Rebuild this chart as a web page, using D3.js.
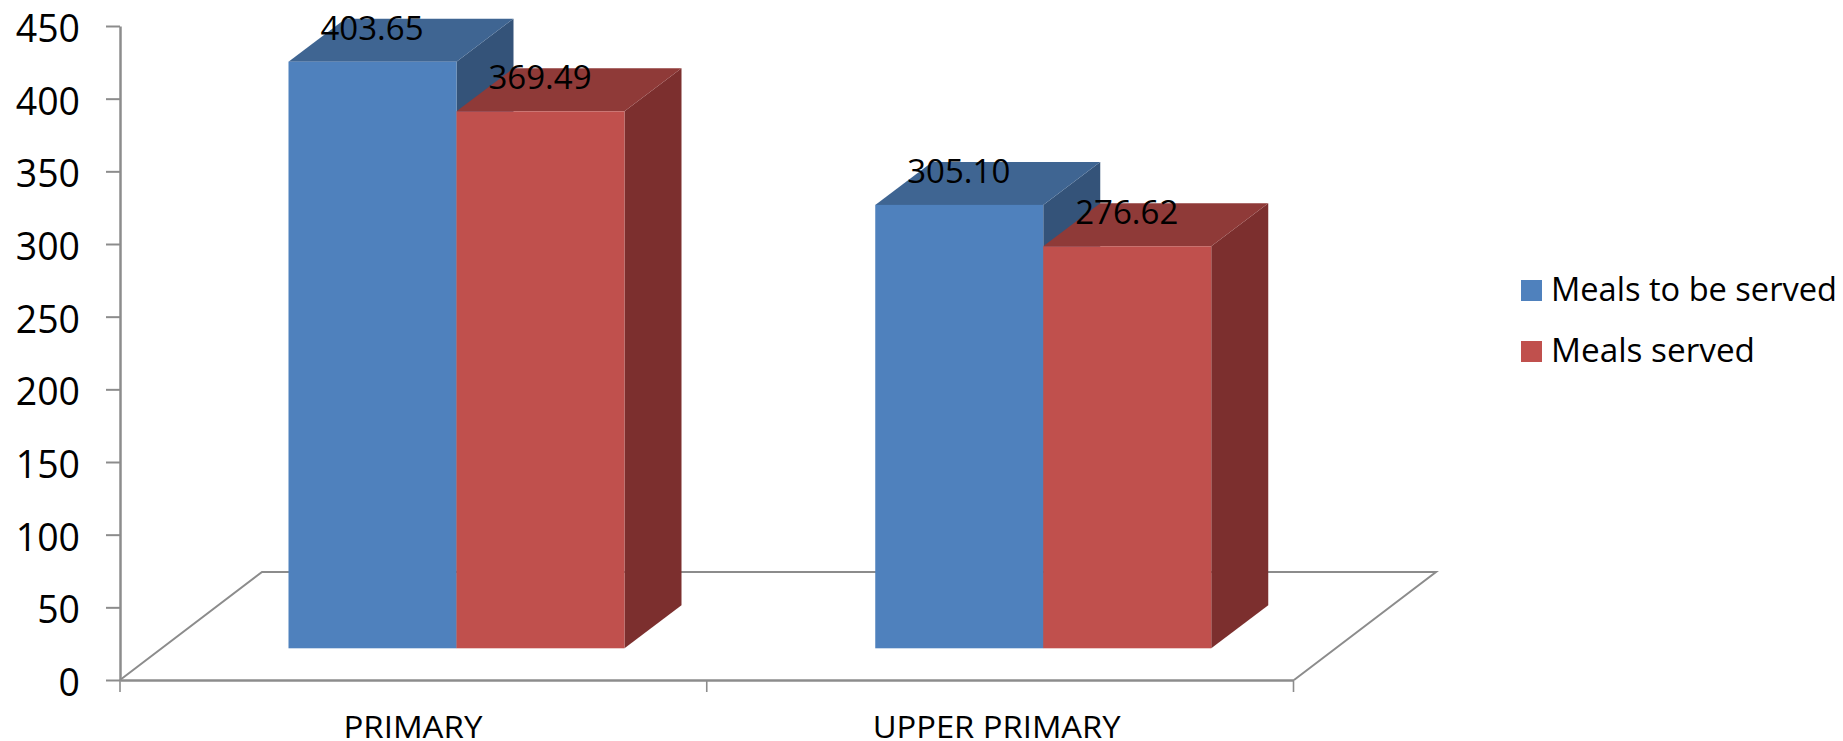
<!DOCTYPE html>
<html><head><meta charset="utf-8">
<script src="https://cdnjs.cloudflare.com/ajax/libs/d3/7.8.5/d3.min.js"></script>
<style>
html,body{margin:0;padding:0;background:#fff;overflow:hidden}
svg{display:block}
text{font-family:"Open Sans",sans-serif;fill:#000}
</style></head><body>
<svg id="c" width="1843" height="741"></svg>
<script>
const categories = ["PRIMARY", "UPPER PRIMARY"];
const seriesNames = ["Meals to be served", "Meals served"];
const mealsToBeServed = [403.65, 305.10];
const mealsServed = [369.49, 276.62];
const labels = [["403.65", "305.10"], ["369.49", "276.62"]];
const yTicks = [0, 50, 100, 150, 200, 250, 300, 350, 400, 450];
const seriesValues = [mealsToBeServed, mealsServed];
const palette = [
  {front: "#4f81bd", top: "#3f6592", side: "#345379"},
  {front: "#c0504d", top: "#8f3a38", side: "#7c2f2e"}
];
const axisColor = "#8c8c8c";

const svg = d3.select("#c");
const y = d3.scaleLinear().domain([0, 450]).range([680, 26]);
const x0 = d3.scaleBand().domain(categories).range([120, 1293.5]);
const x1 = d3.scaleBand().domain([0, 1]).range([125, 461]);

// floor perspective and bar depth
const floorDx = 142, floorDy = 108, frontDx = 43.5, frontDy = 31.7, barDx = 57, barDy = 43;
svg.append("path")
  .attr("d", d3.line()([[120, 680], [120 + floorDx, 680 - floorDy], [1294 + floorDx, 680 - floorDy], [1294, 680]]))
  .attr("fill", "none").attr("stroke", axisColor).attr("stroke-width", 2);

// y axis
const yAxis = svg.append("g").attr("transform", "translate(120,0)")
  .call(d3.axisLeft(y).tickValues(yTicks).tickSize(14).tickPadding(26).tickSizeOuter(0));
yAxis.select(".domain").attr("stroke", axisColor).attr("stroke-width", 2.5);
yAxis.selectAll(".tick line").attr("stroke", axisColor).attr("stroke-width", 2);
yAxis.selectAll(".tick text").attr("dy", null).attr("y", 15.5).attr("font-size", 39).attr("fill", "#000")
  .style("font-family", '"Open Sans",sans-serif').attr("lengthAdjust", "spacingAndGlyphs")
  .each(function (d) { d3.select(this).attr("textLength", String(d).length * 21.4); });

// x axis
const xAxis = svg.append("g").attr("transform", "translate(0,680)")
  .call(d3.axisBottom(x0).tickValues([]).tickSizeOuter(0));
xAxis.select(".domain").attr("stroke", axisColor).attr("stroke-width", 2.5);
const edgeTicks = [x0.range()[0], x0.range()[0] + x0.bandwidth(), x0.range()[1]];
xAxis.selectAll("line.t").data(edgeTicks).join("line").attr("class", "t")
  .attr("x1", d => d).attr("x2", d => d).attr("y1", 0).attr("y2", 12)
  .attr("stroke", axisColor).attr("stroke-width", 1.6);
const catWidths = [139, 248];
const catNudge = [-0.5, -3.5];
svg.append("g").selectAll("text").data(categories).join("text")
  .attr("x", (d, i) => x0(d) + x0.bandwidth() / 2 + catNudge[i])
  .attr("y", 738).attr("text-anchor", "middle").attr("font-size", 30.5)
  .attr("textLength", (d, i) => catWidths[i]).attr("lengthAdjust", "spacingAndGlyphs")
  .text(d => d);

// bars
const bars = [];
seriesValues.forEach((vals, s) => vals.forEach((v, c) => bars.push({s, c, v})));
const bx = d => x0(categories[d.c]) + x1(d.s) + frontDx;
const base = y(0) - frontDy;
const unit = y(0) - y(1);
const barTop = d => base - d.v * unit;
const bw = x1.bandwidth();
const pts = a => a.map(p => p.join(",")).join(" ");
const order = bars.slice().sort((a, b) => a.c - b.c || a.s - b.s);
const g = svg.append("g").selectAll("g").data(order).join("g");
g.append("polygon").attr("fill", d => palette[d.s].side)
  .attr("points", d => pts([[bx(d) + bw, barTop(d)], [bx(d) + bw + barDx, barTop(d) - barDy], [bx(d) + bw + barDx, base - barDy], [bx(d) + bw, base]]));
g.append("polygon").attr("fill", d => palette[d.s].top)
  .attr("points", d => pts([[bx(d), barTop(d)], [bx(d) + barDx, barTop(d) - barDy], [bx(d) + bw + barDx, barTop(d) - barDy], [bx(d) + bw, barTop(d)]]));
g.append("rect").attr("fill", d => palette[d.s].front)
  .attr("x", d => bx(d)).attr("y", d => barTop(d)).attr("width", bw).attr("height", d => base - barTop(d));

// data labels
svg.append("g").selectAll("text").data(order).join("text")
  .attr("x", d => bx(d) + bw / 2 - 0.5).attr("y", d => barTop(d) - 22)
  .attr("text-anchor", "middle").attr("font-size", 33)
  .attr("textLength", 103).attr("lengthAdjust", "spacingAndGlyphs")
  .text(d => labels[d.s][d.c]);

// legend
const legendY = d3.scalePoint().domain(seriesNames).range([280, 341]);
const legendWidths = [286, 204];
const lg = svg.append("g").selectAll("g").data(seriesNames).join("g")
  .attr("transform", d => `translate(1521,${legendY(d)})`);
lg.append("rect").attr("width", 21).attr("height", 21).attr("fill", (d, i) => palette[i].front);
lg.append("text").attr("x", 30).attr("y", 21).attr("font-size", 32)
  .attr("textLength", (d, i) => legendWidths[i]).attr("lengthAdjust", "spacingAndGlyphs")
  .text(d => d);
</script>
</body></html>
